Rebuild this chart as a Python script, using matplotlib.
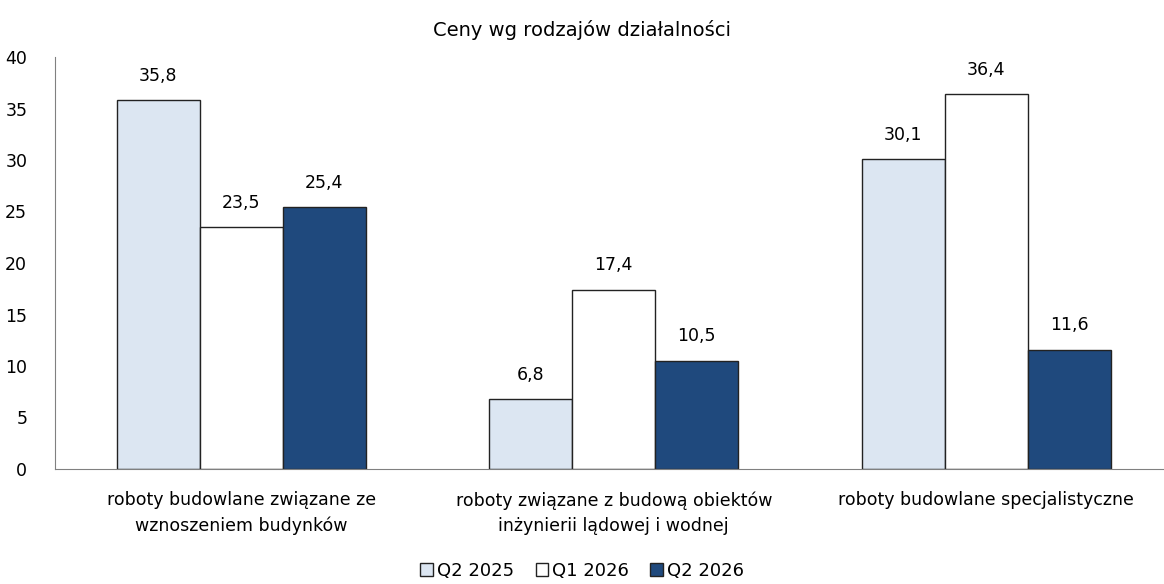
import matplotlib.pyplot as plt
import numpy as np

categories = ['roboty budowlane związane ze\nwznoszeniem budynków',
              'roboty związane z budową obiektów\ninżynierii lądowej i wodnej',
              'roboty budowlane specjalistyczne']
series = ['Q2 2025', 'Q1 2026', 'Q2 2026']
q2_2025 = [35.8, 6.8, 30.1]
q1_2026 = [23.5, 17.4, 36.4]
q2_2026 = [25.4, 10.5, 11.6]
colors = ['#dce6f2', '#ffffff', '#1f497d']

fig = plt.figure(figsize=(11.64, 5.84), dpi=100)
ax = fig.add_axes([55 / 1164, 1 - 469 / 584, 1109 / 1164, 412 / 584])

x = np.arange(len(categories))
w = 0.223
for i, (vals, c, lab) in enumerate(zip([q2_2025, q1_2026, q2_2026], colors, series)):
    bars = ax.bar(x + (i - 1) * w, vals, w, color=c, edgecolor='#222222',
                  linewidth=1, label=lab)
    for b, v in zip(bars, vals):
        ax.text(b.get_x() + b.get_width() / 2, v + 1.5, f'{v:.1f}'.replace('.', ','),
                ha='center', va='bottom', fontsize=12.5)

ax.set_ylim(0, 40)
ax.set_xlim(-0.5, 2.477)
ax.set_yticks(range(0, 41, 5))
ax.tick_params(axis='both', length=0, labelsize=12.5)
ax.tick_params(axis='y', pad=20)
ax.set_xticks(x)
ax.set_xticklabels(categories, fontsize=12.5, linespacing=1.5)
ax.tick_params(axis='x', pad=16)
for s in ['top', 'right']:
    ax.spines[s].set_visible(False)
for s in ['left', 'bottom']:
    ax.spines[s].set_color('#808080')

fig.text(0.5, 1 - 30 / 584, 'Ceny wg rodzajów działalności', ha='center',
         va='center', fontsize=14)
fig.legend(loc='center', bbox_to_anchor=(0.5, 1 - 571 / 584), ncol=3,
           frameon=False, fontsize=13, handlelength=0.7, handleheight=0.7,
           handletextpad=0.2, columnspacing=1.2)

fig.savefig('out.png', dpi=100)
